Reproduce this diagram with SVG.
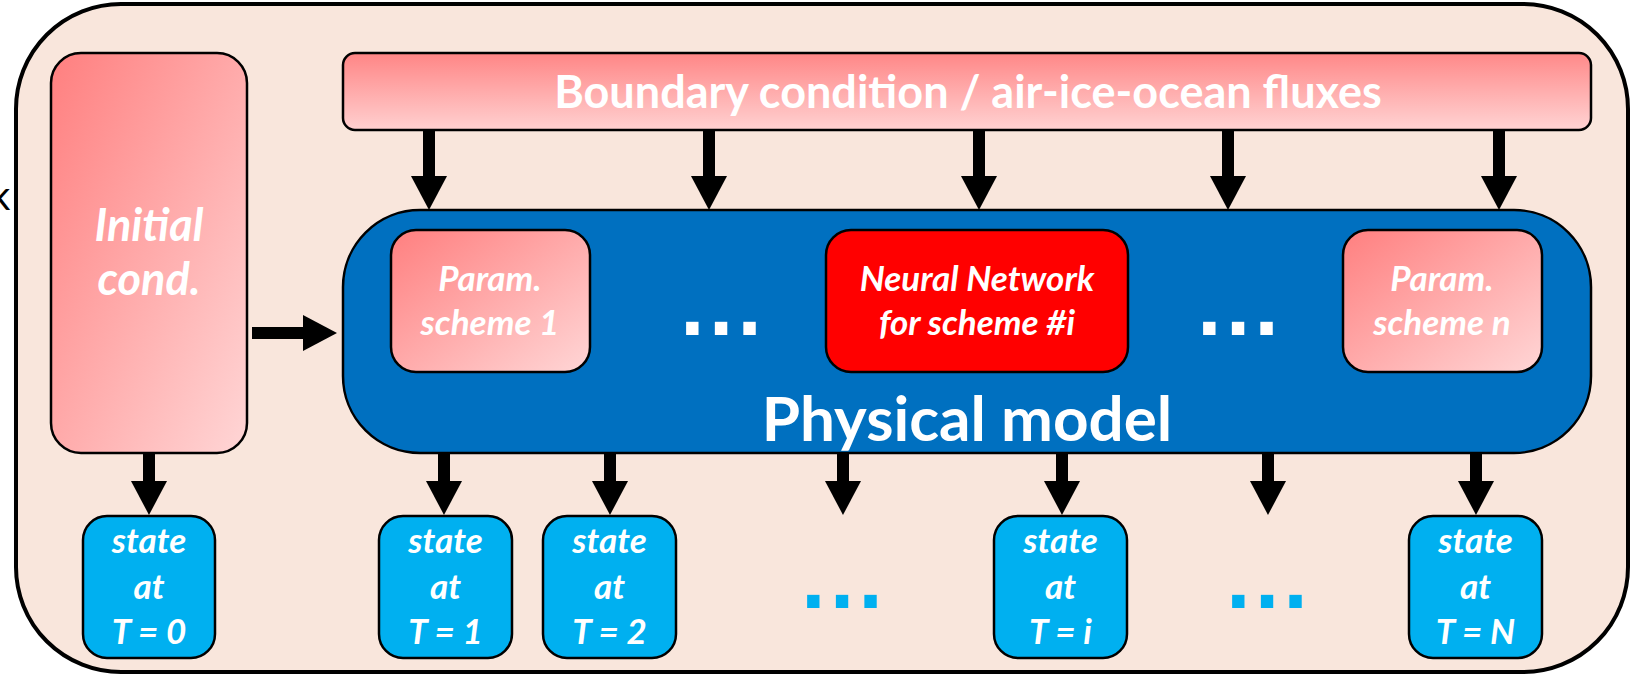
<svg xmlns="http://www.w3.org/2000/svg" width="1645" height="674" viewBox="0 0 1645 674">
<defs>
<linearGradient id="gDiag" x1="0" y1="0" x2="1" y2="1">
<stop offset="0" stop-color="#FF7F7F"/>
<stop offset="1" stop-color="#FFD6D6"/>
</linearGradient>
<linearGradient id="gVert" x1="0" y1="0" x2="0.05" y2="1">
<stop offset="0" stop-color="#FF8585"/>
<stop offset="1" stop-color="#FFD0D0"/>
</linearGradient>
<marker id="ah" viewBox="0 0 34 36" markerWidth="34" markerHeight="36" refX="0" refY="18" orient="auto" markerUnits="userSpaceOnUse">
<path d="M0,0 L34,18 L0,36 Z" fill="#000"/>
</marker>
<style>
.frame{fill:#F9E6DC;stroke:#000;stroke-width:4}
.pink{stroke:#000;stroke-width:2.5}
.state{fill:#00B0F0;stroke:#000;stroke-width:2.5}
.wt{fill:#fff;font-family:Lato,"Open Sans",sans-serif;font-weight:bold;text-anchor:middle}
.it{font-style:italic}
.st{font-size:35px}
.pm{font-size:35px}
.conn line{stroke:#000;stroke-width:12;marker-end:url(#ah)}
.dots{font-family:"DejaVu Sans",sans-serif;font-weight:bold;font-size:70px;text-anchor:middle;letter-spacing:2px}
</style>
</defs>
<text x="-10" y="210" font-family="Lato, sans-serif" font-size="40" fill="#000">k</text>
<rect class="frame" x="16" y="4" width="1612" height="668" rx="105" ry="105"/>

<g id="initial">
<rect class="pink" x="51" y="53" width="196" height="400" rx="30" fill="url(#gDiag)"/>
<text class="wt it" x="149" y="241" font-size="45">Initial</text>
<text class="wt it" x="149" y="295" font-size="45">cond.</text>
</g>

<g id="boundary">
<rect class="pink" x="343" y="53" width="1248" height="77" rx="12" fill="url(#gVert)"/>
<text class="wt" x="968" y="108" font-size="45">Boundary condition / air-ice-ocean fluxes</text>
</g>

<g id="physical">
<rect x="343" y="210" width="1248" height="243" rx="77" fill="#0070C0" stroke="#000" stroke-width="2.5"/>
<text class="wt" x="967" y="441" font-size="62">Physical model</text>
<text class="dots" x="722" y="335" fill="#fff">...</text>
<text class="dots" x="1239" y="335" fill="#fff">...</text>
</g>

<g id="param1">
<rect class="pink" x="391" y="230" width="199" height="142" rx="25" fill="url(#gDiag)"/>
<text class="wt it pm" x="490" y="291">Param.</text>
<text class="wt it pm" x="490" y="335">scheme 1</text>
</g>

<g id="nn">
<rect x="826" y="230" width="302" height="142" rx="25" fill="#FF0000" stroke="#000" stroke-width="2.5"/>
<text class="wt it pm" x="977" y="291">Neural Network</text>
<text class="wt it pm" x="977" y="335">for scheme #i</text>
</g>

<g id="paramn">
<rect class="pink" x="1343" y="230" width="199" height="142" rx="25" fill="url(#gDiag)"/>
<text class="wt it pm" x="1442" y="291">Param.</text>
<text class="wt it pm" x="1442" y="335">scheme n</text>
</g>

<g id="state0">
<rect class="state" x="83" y="516" width="132" height="142" rx="24"/>
<text class="wt it st" x="149" y="553">state</text>
<text class="wt it st" x="149" y="599">at</text>
<text class="wt it st" x="149" y="644">T = 0</text>
</g>
<g id="state1">
<rect class="state" x="379" y="516" width="133" height="142" rx="24"/>
<text class="wt it st" x="445.5" y="553">state</text>
<text class="wt it st" x="445.5" y="599">at</text>
<text class="wt it st" x="445.5" y="644">T = 1</text>
</g>
<g id="state2">
<rect class="state" x="543" y="516" width="133" height="142" rx="24"/>
<text class="wt it st" x="609.5" y="553">state</text>
<text class="wt it st" x="609.5" y="599">at</text>
<text class="wt it st" x="609.5" y="644">T = 2</text>
</g>
<g id="statei">
<rect class="state" x="994" y="516" width="133" height="142" rx="24"/>
<text class="wt it st" x="1060.5" y="553">state</text>
<text class="wt it st" x="1060.5" y="599">at</text>
<text class="wt it st" x="1060.5" y="644">T = i</text>
</g>
<g id="stateN">
<rect class="state" x="1409" y="516" width="133" height="142" rx="24"/>
<text class="wt it st" x="1475.5" y="553">state</text>
<text class="wt it st" x="1475.5" y="599">at</text>
<text class="wt it st" x="1475.5" y="644">T = N</text>
</g>

<g id="bottomdots">
<text class="dots" x="843" y="608" fill="#00B0F0">...</text>
<text class="dots" x="1268" y="608" fill="#00B0F0">...</text>
</g>

<g id="connectors" class="conn">
<line x1="429" y1="131" x2="429" y2="176"/>
<line x1="709" y1="131" x2="709" y2="176"/>
<line x1="979" y1="131" x2="979" y2="176"/>
<line x1="1228" y1="131" x2="1228" y2="176"/>
<line x1="1499" y1="131" x2="1499" y2="176"/>
<line x1="252" y1="333" x2="303" y2="333"/>
<line x1="149" y1="454" x2="149" y2="481"/>
<line x1="444" y1="454" x2="444" y2="481"/>
<line x1="610" y1="454" x2="610" y2="481"/>
<line x1="843" y1="454" x2="843" y2="481"/>
<line x1="1062" y1="454" x2="1062" y2="481"/>
<line x1="1268" y1="454" x2="1268" y2="481"/>
<line x1="1476" y1="454" x2="1476" y2="481"/>
</g>
</svg>
